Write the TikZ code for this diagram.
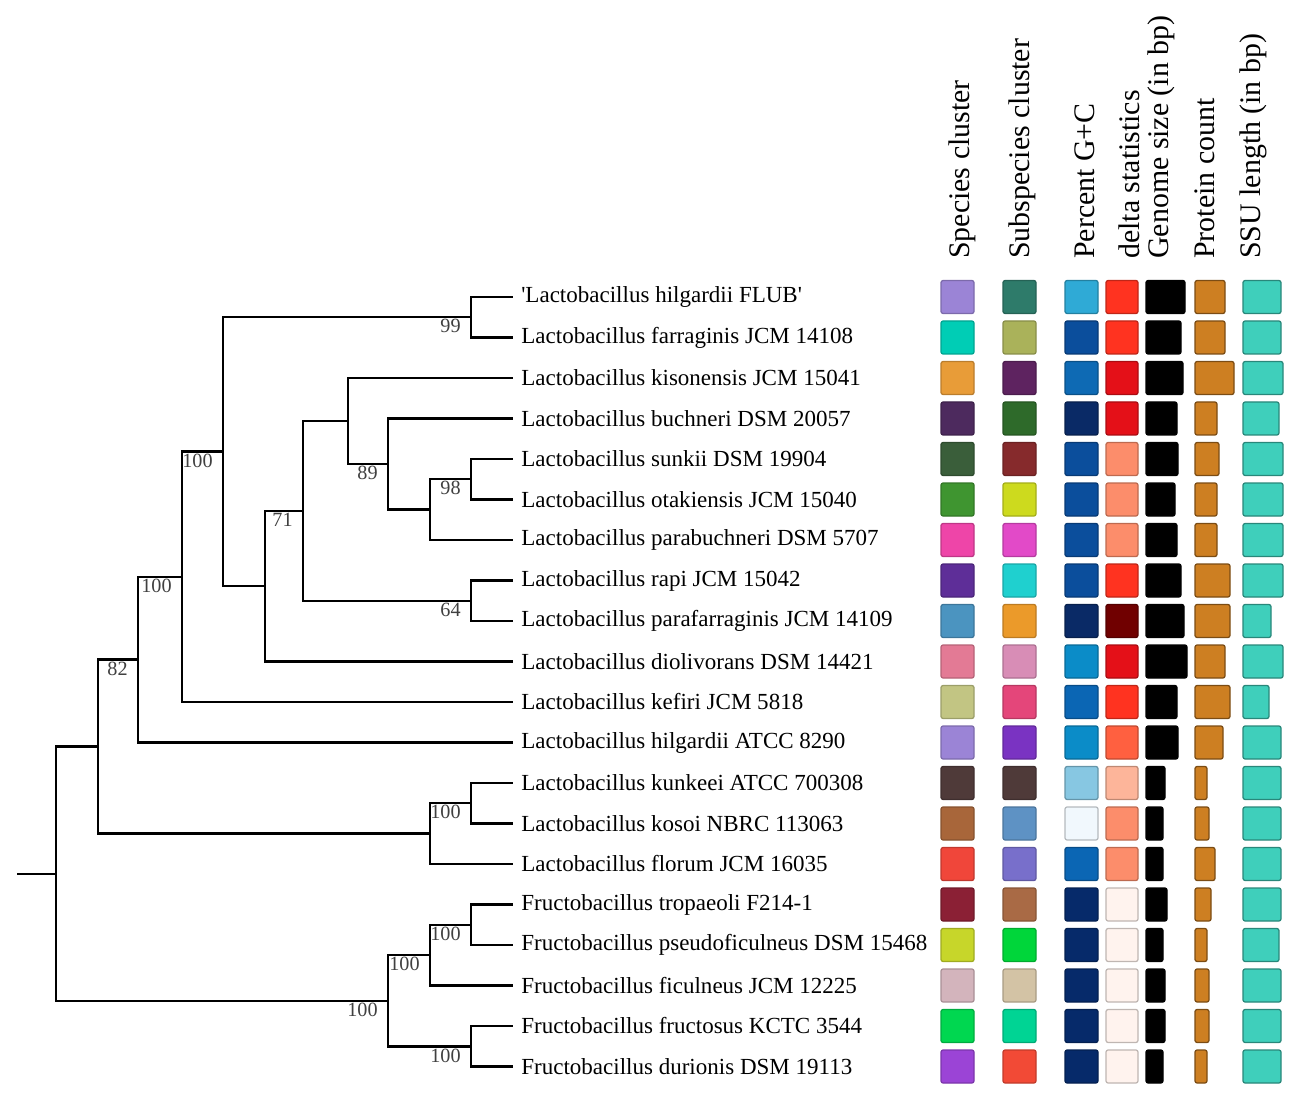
\documentclass[tikz,border=0pt]{standalone}
\usepackage{fontspec}
\setmainfont{Liberation Serif}
\usetikzlibrary{positioning}
\newcommand{\leaffont}{\fontsize{13.1}{15}\selectfont}
\newcommand{\headfont}{\fontsize{17}{20}\selectfont}
\newcommand{\bootfont}{\fontsize{11.5}{13}\selectfont}

\begin{document}
\begin{tikzpicture}[x=0.02cm, y=-0.02cm]
  \useasboundingbox (0,0) rectangle (1296,1098);
  \tikzstyle{leaf} = [anchor=west, inner xsep=0.16cm, inner ysep=0pt, font=\leaffont]
  \tikzstyle{boot} = [anchor=north east, inner sep=0pt, xshift=-0.2cm, yshift=-0.04cm, text=black!75, font=\bootfont]
  \tikzstyle{head} = [rotate=90, anchor=west, inner sep=0pt, font=\headfont]
  \tikzstyle{branch} = [line width=1.5pt]
  \tikzstyle{cbox} = [rounded corners=1.2pt, line width=0.7pt]

  % leaves
  \node[leaf] (l1) at (513,297) {\textquotesingle Lactobacillus hilgardii FLUB\textquotesingle};
  \node[leaf] (l2) at (513,337.5) {Lactobacillus farraginis JCM 14108};
  \node[leaf] (l3) at (513,378) {Lactobacillus kisonensis JCM 15041};
  \node[leaf] (l4) at (513,418.5) {Lactobacillus buchneri DSM 20057};
  \node[leaf] (l5) at (513,459) {Lactobacillus sunkii DSM 19904};
  \node[leaf] (l6) at (513,499.5) {Lactobacillus otakiensis JCM 15040};
  \node[leaf] (l7) at (513,540) {Lactobacillus parabuchneri DSM 5707};
  \node[leaf] (l8) at (513,580.5) {Lactobacillus rapi JCM 15042};
  \node[leaf] (l9) at (513,621) {Lactobacillus parafarraginis JCM 14109};
  \node[leaf] (l10) at (513,661.5) {Lactobacillus diolivorans DSM 14421};
  \node[leaf] (l11) at (513,702) {Lactobacillus kefiri JCM 5818};
  \node[leaf] (l12) at (513,742.5) {Lactobacillus hilgardii ATCC 8290};
  \node[leaf] (l13) at (513,783) {Lactobacillus kunkeei ATCC 700308};
  \node[leaf] (l14) at (513,823.5) {Lactobacillus kosoi NBRC 113063};
  \node[leaf] (l15) at (513,864) {Lactobacillus florum JCM 16035};
  \node[leaf] (l16) at (513,904.5) {Fructobacillus tropaeoli F214-1};
  \node[leaf] (l17) at (513,945) {Fructobacillus pseudoficulneus DSM 15468};
  \node[leaf] (l18) at (513,985.5) {Fructobacillus ficulneus JCM 12225};
  \node[leaf] (l19) at (513,1026) {Fructobacillus fructosus KCTC 3544};
  \node[leaf] (l20) at (513,1066.5) {Fructobacillus durionis DSM 19113};

  % inner nodes
  \coordinate (nA) at (471,317);
  \coordinate (nH) at (471,479);
  \coordinate (nG) at (430,509.5);
  \coordinate (nF) at (388,464);
  \coordinate (nE) at (348,421);
  \coordinate (nI) at (471,601);
  \coordinate (nD) at (303,511);
  \coordinate (nC) at (265,586);
  \coordinate (nB) at (223,451.5);
  \coordinate (nK) at (182,577);
  \coordinate (nL) at (138,659.5);
  \coordinate (nO) at (471,803);
  \coordinate (nN) at (430,833.5);
  \coordinate (nM) at (98,746.5);
  \coordinate (nR) at (471,925);
  \coordinate (nQ) at (430,955);
  \coordinate (nS) at (471,1046.5);
  \coordinate (nP) at (388,1001);
  \coordinate (root) at (56,874);
  \coordinate (rootl) at (17,874);

  % branches
  \draw[branch] (rootl) -- (root);
  \draw[branch] (root) |- (nM);
  \draw[branch] (root) |- (nP);
  \draw[branch] (nM) |- (nL);
  \draw[branch] (nM) |- (nN);
  \draw[branch] (nL) |- (nK);
  \draw[branch] (nL) |- (l12.west);
  \draw[branch] (nK) |- (nB);
  \draw[branch] (nK) |- (l11.west);
  \draw[branch] (nB) |- (nA);
  \draw[branch] (nB) |- (nC);
  \draw[branch] (nA) |- (l1.west);
  \draw[branch] (nA) |- (l2.west);
  \draw[branch] (nC) |- (nD);
  \draw[branch] (nC) |- (l10.west);
  \draw[branch] (nD) |- (nE);
  \draw[branch] (nD) |- (nI);
  \draw[branch] (nE) |- (l3.west);
  \draw[branch] (nE) |- (nF);
  \draw[branch] (nF) |- (l4.west);
  \draw[branch] (nF) |- (nG);
  \draw[branch] (nG) |- (nH);
  \draw[branch] (nG) |- (l7.west);
  \draw[branch] (nH) |- (l5.west);
  \draw[branch] (nH) |- (l6.west);
  \draw[branch] (nI) |- (l8.west);
  \draw[branch] (nI) |- (l9.west);
  \draw[branch] (nN) |- (nO);
  \draw[branch] (nN) |- (l15.west);
  \draw[branch] (nO) |- (l13.west);
  \draw[branch] (nO) |- (l14.west);
  \draw[branch] (nP) |- (nQ);
  \draw[branch] (nP) |- (nS);
  \draw[branch] (nQ) |- (nR);
  \draw[branch] (nQ) |- (l18.west);
  \draw[branch] (nR) |- (l16.west);
  \draw[branch] (nR) |- (l17.west);
  \draw[branch] (nS) |- (l19.west);
  \draw[branch] (nS) |- (l20.west);

  % bootstrap values
  \node[boot] (bA) at (nA) {99};
  \node[boot] (bB) at (nB) {100};
  \node[boot] (bD) at (nD) {71};
  \node[boot] (bF) at (nF) {89};
  \node[boot] (bH) at (nH) {98};
  \node[boot] (bI) at (nI) {64};
  \node[boot] (bK) at (nK) {100};
  \node[boot] (bL) at (nL) {82};
  \node[boot] (bO) at (nO) {100};
  \node[boot] (bP) at (nP) {100};
  \node[boot] (bQ) at (nQ) {100};
  \node[boot] (bR) at (nR) {100};
  \node[boot] (bS) at (nS) {100};

  % column heads
  \node[head] (h1) at (962,259) {Species cluster};
  \node[head] (h2) at (1022,259) {Subspecies cluster};
  \node[head] (h3) at (1085,259) {Percent G+C};
  \node[head] (h4) at (1129,259) {delta statistics};
  \node[head] (h5) at (1161,259) {Genome size (in bp)};
  \node[head] (h6) at (1205,259) {Protein count};
  \node[head] (h7) at (1253,259) {SSU length (in bp)};

  % colour strips
  \definecolor{protcol}{HTML}{CD7F22}
  \definecolor{ssucol}{HTML}{3FCFBB}
  \foreach \i/\colA/\colB/\colC/\colD/\gend/\pend/\send in {
      1/9B84D6/2E7B6A/2FAAD6/FF3320/1185/1225/1281,
      2/00CDB5/AAB25A/0B4E9C/FF3320/1181/1225/1281,
      3/E89C38/5E2360/0E6AB4/E41018/1183/1234/1283,
      4/4D2A5E/2E6A2A/0A2A66/E41018/1177/1217/1279,
      5/3A5E3A/862A2C/0B4E9C/FC8D6B/1178/1219/1283,
      6/3F9530/CDDA1E/0B4E9C/FC8D6B/1175/1217/1283,
      7/EE45A8/E24AC8/0B4E9C/FC8D6B/1177/1217/1283,
      8/5E2E98/1FD0CF/0B4E9C/FF3320/1181/1230/1283,
      9/4B94C0/EB9A2A/0A2A66/700000/1184/1230/1271,
      10/E37A95/D88DB6/0B8CC8/E41018/1187/1225/1283,
      11/C2C583/E4467A/0B66B4/FF3320/1177/1230/1269,
      12/9B84D6/7A33C2/0B8CC8/FF6040/1178/1223/1281,
      13/4F3A39/4F3A39/87C7E2/FDB59A/1165/1207/1281,
      14/A8663A/5E92C4/F1F8FD/FC8D6B/1163/1209/1281,
      15/F0463A/786FCB/0B66B4/FC8D6B/1163/1215/1281,
      16/8B2035/A96A45/062A6A/FFF3EE/1167/1211/1281,
      17/C7D62A/00D63A/062A6A/FFF3EE/1163/1207/1279,
      18/D3B4BC/D3C3A5/062A6A/FFF3EE/1165/1209/1281,
      19/00D750/00D494/062A6A/FFF3EE/1165/1209/1281,
      20/9B44D6/F24A36/062A6A/FFF3EE/1163/1207/1281}{
    \pgfmathsetmacro{\yc}{297+40.5*(\i-1)}
    \definecolor{cA}{HTML}{\colA}
    \definecolor{cB}{HTML}{\colB}
    \definecolor{cC}{HTML}{\colC}
    \definecolor{cD}{HTML}{\colD}
    \draw[cbox, fill=cA, draw=cA!80!black] (941,\yc-16.5) rectangle (974,\yc+16.5);
    \draw[cbox, fill=cB, draw=cB!80!black] (1003,\yc-16.5) rectangle (1036,\yc+16.5);
    \draw[cbox, fill=cC, draw=cC!75!black] (1065,\yc-16.5) rectangle (1098,\yc+16.5);
    \draw[cbox, fill=cD, draw=cD!75!black] (1106,\yc-16.5) rectangle (1138,\yc+16.5);
    \draw[cbox, fill=black, draw=black] (1146,\yc-16.5) rectangle (\gend,\yc+16.5);
    \draw[cbox, fill=protcol, draw=protcol!60!black] (1195,\yc-16.5) rectangle (\pend,\yc+16.5);
    \draw[cbox, fill=ssucol, draw=ssucol!65!black] (1243,\yc-16.5) rectangle (\send,\yc+16.5);
  }
\end{tikzpicture}
\end{document}
